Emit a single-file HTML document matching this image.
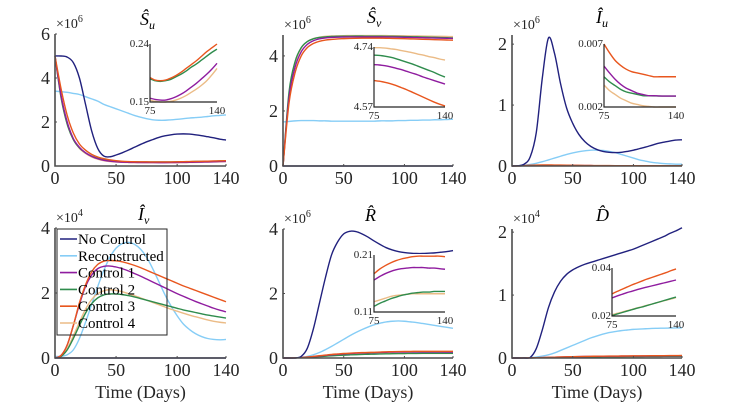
<!DOCTYPE html>
<html><head><meta charset="utf-8"><style>
html,body{margin:0;padding:0;background:#fff;}
svg{display:block;font-family:"Liberation Serif",serif;}
</style></head><body>
<svg id="fig" width="731" height="407" viewBox="0 0 731 407"></svg>
<script>
const t=[0,5,10,15,20,25,30,35,40,45,50,55,60,65,70,75,80,85,90,95,100,105,110,115,120,125,130,135,140];
// S_u (x10^6)
const suNo=[5,5,4.95,4.7,4.0,2.8,1.6,0.8,0.45,0.42,0.5,0.6,0.72,0.85,0.98,1.1,1.2,1.3,1.37,1.42,1.45,1.46,1.45,1.42,1.38,1.33,1.28,1.22,1.18];
const suRec=[3.4,3.38,3.35,3.3,3.25,3.15,3.05,2.95,2.8,2.7,2.6,2.5,2.4,2.3,2.22,2.15,2.1,2.08,2.08,2.1,2.12,2.15,2.18,2.2,2.22,2.25,2.28,2.3,2.32];
const suC1=[5,3.2,2.0,1.25,0.85,0.6,0.44,0.33,0.26,0.22,0.19,0.175,0.165,0.16,0.157,0.156,0.154,0.153,0.153,0.155,0.158,0.162,0.167,0.173,0.179,0.186,0.193,0.201,0.21];
const suC2=[5,3.1,1.9,1.2,0.82,0.6,0.45,0.35,0.28,0.24,0.215,0.2,0.192,0.188,0.187,0.186,0.183,0.182,0.183,0.185,0.189,0.193,0.198,0.204,0.209,0.215,0.221,0.227,0.232];
const suC3=[5,3.5,2.3,1.5,1.0,0.72,0.53,0.41,0.33,0.28,0.24,0.215,0.2,0.193,0.19,0.188,0.184,0.183,0.184,0.187,0.191,0.196,0.202,0.208,0.214,0.221,0.228,0.234,0.241];
const suC4=[5,3.1,1.9,1.2,0.8,0.57,0.41,0.31,0.24,0.2,0.18,0.168,0.16,0.156,0.154,0.153,0.151,0.150,0.150,0.151,0.153,0.156,0.160,0.165,0.170,0.176,0.183,0.192,0.202];
// S_v (x10^6)
const svNo=t.map(()=>0);
const svRec=[1.6,1.62,1.64,1.65,1.65,1.65,1.64,1.64,1.63,1.63,1.63,1.63,1.63,1.63,1.63,1.63,1.64,1.64,1.64,1.65,1.65,1.66,1.66,1.67,1.67,1.68,1.68,1.69,1.7];
const svC1=[0,2.5,3.6,4.15,4.42,4.55,4.62,4.655,4.672,4.682,4.687,4.69,4.691,4.691,4.691,4.69,4.689,4.687,4.684,4.68,4.676,4.671,4.666,4.661,4.655,4.65,4.645,4.64,4.635];
const svC2=[0,2.7,3.8,4.3,4.52,4.62,4.67,4.69,4.705,4.712,4.716,4.718,4.719,4.719,4.718,4.717,4.716,4.714,4.711,4.707,4.702,4.697,4.692,4.686,4.68,4.674,4.668,4.661,4.655];
const svC3=[0,2.3,3.4,4.0,4.3,4.45,4.53,4.575,4.6,4.618,4.628,4.636,4.641,4.644,4.645,4.645,4.643,4.64,4.636,4.631,4.625,4.619,4.612,4.605,4.598,4.591,4.584,4.578,4.573];
const svC4=[0,2.6,3.75,4.28,4.52,4.63,4.68,4.71,4.725,4.732,4.736,4.738,4.739,4.739,4.739,4.738,4.738,4.737,4.735,4.733,4.730,4.727,4.724,4.72,4.717,4.713,4.71,4.706,4.703];
// I_u (x10^6)
const iuNo=[0,0.005,0.03,0.15,0.55,1.45,2.1,1.85,1.35,0.95,0.7,0.52,0.4,0.32,0.27,0.24,0.225,0.22,0.225,0.24,0.26,0.285,0.31,0.34,0.37,0.39,0.41,0.425,0.43];
const iuRec=[0,0.003,0.01,0.025,0.045,0.07,0.1,0.13,0.16,0.19,0.215,0.235,0.25,0.26,0.26,0.255,0.24,0.22,0.19,0.16,0.13,0.1,0.08,0.06,0.05,0.04,0.035,0.03,0.03];
const iuC1=[0,0.0015,0.005,0.009,0.012,0.0135,0.0135,0.0125,0.0112,0.0099,0.0087,0.0077,0.0068,0.006,0.0056,0.00525,0.0047,0.0042,0.0038,0.0035,0.0033,0.0031,0.003,0.0029,0.0029,0.00288,0.00287,0.00287,0.00287];
const iuC2=[0,0.001,0.004,0.007,0.0095,0.0105,0.0105,0.0097,0.0087,0.0077,0.0068,0.006,0.0053,0.0048,0.0046,0.0044,0.004,0.0037,0.0034,0.0032,0.0031,0.003,0.0029,0.00289,0.00288,0.00287,0.00287,0.00287,0.00287];
const iuC3=[0,0.002,0.006,0.011,0.015,0.017,0.017,0.016,0.0145,0.013,0.0115,0.0103,0.0092,0.0082,0.0075,0.007,0.0063,0.0057,0.0053,0.005,0.0048,0.0047,0.0046,0.0045,0.0044,0.0044,0.0044,0.0044,0.0044];
const iuC4=[0,0.001,0.004,0.0075,0.01,0.011,0.011,0.01,0.0088,0.0076,0.0065,0.0055,0.0047,0.0041,0.0039,0.00375,0.0033,0.003,0.0027,0.0025,0.0023,0.0022,0.0021,0.00205,0.002,0.002,0.002,0.002,0.002];
// I_v (x10^4)
const ivNo=t.map(()=>0);
const ivRec=[0.05,0.05,0.1,0.25,0.6,1.1,1.65,2.2,2.7,3.1,3.38,3.52,3.56,3.5,3.35,3.1,2.75,2.35,1.95,1.6,1.3,1.05,0.88,0.75,0.66,0.6,0.57,0.56,0.57];
const ivC1=[0,0.08,0.4,1.0,1.65,2.2,2.55,2.75,2.82,2.83,2.8,2.75,2.68,2.6,2.52,2.43,2.34,2.25,2.16,2.07,1.98,1.9,1.82,1.74,1.67,1.6,1.53,1.47,1.42];
const ivC2=[0,0.05,0.25,0.6,1.0,1.38,1.67,1.85,1.94,1.97,1.97,1.95,1.92,1.88,1.83,1.78,1.73,1.68,1.63,1.58,1.53,1.48,1.44,1.4,1.36,1.32,1.29,1.26,1.23];
const ivC3=[0,0.08,0.4,1.0,1.7,2.25,2.65,2.88,2.98,3.0,2.99,2.96,2.91,2.85,2.78,2.7,2.62,2.54,2.46,2.38,2.3,2.22,2.15,2.08,2.01,1.94,1.87,1.8,1.73];
const ivC4=[0,0.05,0.28,0.68,1.1,1.5,1.8,1.98,2.07,2.1,2.08,2.04,1.98,1.92,1.85,1.78,1.71,1.64,1.57,1.5,1.44,1.38,1.32,1.27,1.22,1.17,1.13,1.1,1.08];
// R (x10^6)
const rNo=[0,0,0,0.05,0.3,0.9,1.7,2.5,3.2,3.6,3.85,3.93,3.92,3.85,3.75,3.63,3.52,3.42,3.35,3.3,3.27,3.25,3.24,3.24,3.25,3.26,3.28,3.3,3.33];
const rRec=[0,0,0.005,0.02,0.05,0.1,0.17,0.26,0.36,0.47,0.58,0.69,0.79,0.88,0.96,1.03,1.08,1.12,1.14,1.15,1.14,1.12,1.1,1.07,1.04,1.01,0.98,0.95,0.92];
const rC1=[0,0,0.004,0.013,0.027,0.045,0.064,0.082,0.1,0.115,0.128,0.139,0.149,0.156,0.162,0.166,0.172,0.177,0.181,0.184,0.186,0.187,0.188,0.188,0.188,0.187,0.187,0.186,0.185];
const rC2=[0,0,0.003,0.009,0.019,0.031,0.044,0.057,0.069,0.08,0.089,0.097,0.104,0.11,0.116,0.12,0.125,0.129,0.133,0.136,0.139,0.141,0.143,0.144,0.145,0.145,0.146,0.146,0.146];
const rC3=[0,0,0.005,0.015,0.03,0.05,0.07,0.09,0.11,0.125,0.14,0.15,0.16,0.167,0.172,0.177,0.185,0.191,0.196,0.2,0.203,0.205,0.207,0.208,0.208,0.208,0.208,0.208,0.207];
const rC4=[0,0,0.003,0.01,0.021,0.034,0.048,0.061,0.073,0.084,0.093,0.102,0.11,0.117,0.124,0.128,0.131,0.134,0.137,0.139,0.14,0.141,0.142,0.142,0.142,0.142,0.142,0.142,0.142];
// D (x10^4)
const dNo=[0,0,0,0.01,0.15,0.45,0.8,1.05,1.22,1.33,1.4,1.45,1.49,1.52,1.55,1.58,1.61,1.64,1.67,1.7,1.73,1.77,1.81,1.85,1.89,1.93,1.98,2.02,2.07];
const dRec=[0,0,0,0.005,0.015,0.03,0.05,0.08,0.12,0.16,0.2,0.24,0.28,0.32,0.35,0.38,0.405,0.42,0.435,0.445,0.455,0.46,0.465,0.47,0.472,0.474,0.476,0.478,0.48];
const dC1=[0,0,0.0005,0.002,0.004,0.0066,0.0095,0.0124,0.0152,0.018,0.02,0.022,0.0238,0.0256,0.0266,0.0275,0.0283,0.029,0.0297,0.0303,0.0309,0.0315,0.032,0.0325,0.033,0.0335,0.034,0.0345,0.035];
const dC2=[0,0,0.0003,0.0014,0.003,0.005,0.007,0.009,0.011,0.013,0.0148,0.0163,0.0177,0.0188,0.0196,0.0202,0.0208,0.0214,0.022,0.0226,0.0232,0.0237,0.0243,0.0249,0.0255,0.0261,0.0267,0.0273,0.0279];
const dC3=[0,0,0.0005,0.002,0.004,0.007,0.01,0.013,0.016,0.019,0.021,0.023,0.025,0.027,0.0283,0.0292,0.0302,0.0311,0.032,0.0329,0.0337,0.0345,0.0353,0.036,0.0367,0.0374,0.0381,0.0389,0.0396];
const dC4=[0,0,0.0003,0.0014,0.003,0.005,0.0071,0.0092,0.0112,0.0132,0.015,0.0165,0.0179,0.0191,0.0199,0.0205,0.0211,0.0216,0.0222,0.0227,0.0233,0.0238,0.0244,0.0249,0.0255,0.026,0.0266,0.0271,0.0277];
const xTicks=[0,50,100,140];
const seriesNames=["No Control","Reconstructed","Control 1","Control 2","Control 3","Control 4"];

const NS="http://www.w3.org/2000/svg";
const svg=document.getElementById('fig');
const COL={nc:'#21217e',rec:'#86cdf6',c1:'#8f1c9f',c2:'#2f8c4d',c3:'#e8561e',c4:'#ebbb86'};
function mk(tag,attrs,parent){const e=document.createElementNS(NS,tag);for(const k in attrs)e.setAttribute(k,attrs[k]);(parent||svg).appendChild(e);return e;}
function smoothPath(pts){let d='M'+pts[0][0].toFixed(2)+','+pts[0][1].toFixed(2);
 for(let i=0;i<pts.length-1;i++){const p0=pts[Math.max(0,i-1)],p1=pts[i],p2=pts[i+1],p3=pts[Math.min(pts.length-1,i+2)];
  const c1x=p1[0]+(p2[0]-p0[0])/6,c1y=p1[1]+(p2[1]-p0[1])/6,c2x=p2[0]-(p3[0]-p1[0])/6,c2y=p2[1]-(p3[1]-p1[1])/6;
  d+=' C'+c1x.toFixed(2)+','+c1y.toFixed(2)+' '+c2x.toFixed(2)+','+c2y.toFixed(2)+' '+p2[0].toFixed(2)+','+p2[1].toFixed(2);}
 return d;}

const panels=[
 {name:'su',title:['S','u'],x0:55,x1:226,yb:166,yt:34,ymax:6,yt_:[0,2,4,6],exp:'6',tx:140,ty:25,
  data:[suRec,suC4,suC2,suC1,suC3,suNo],inset:{x0:150,x1:217,yt:44,yb:102,lo:0.15,hi:0.24}},
 {name:'sv',title:['S','v'],x0:283,x1:453,yb:166,yt:35,ymax:4.76,yt_:[0,2,4],exp:'6',tx:367,ty:23,
  data:[svRec,svC4,svC2,svC1,svC3,svNo],inset:{x0:374,x1:445,yt:47,yb:107,lo:4.57,hi:4.74}},
 {name:'iu',title:['I','u'],x0:512,x1:682,yb:166,yt:35,ymax:2.15,yt_:[0,1,2],exp:'6',tx:596,ty:23,
  data:[iuRec,iuC4,iuC2,iuC1,iuC3,iuNo],inset:{x0:604,x1:676,yt:44,yb:107,lo:0.002,hi:0.007}},
 {name:'iv',title:['I','v'],x0:55,x1:226,yb:358,yt:228,ymax:4,yt_:[0,2,4],exp:'4',tx:138,ty:220,xlabel:true,
  data:[ivRec,ivC4,ivC2,ivC1,ivC3,ivNo]},
 {name:'r',title:['R',''],x0:283,x1:453,yb:358,yt:229,ymax:4,yt_:[0,2,4],exp:'6',tx:365,ty:221,xlabel:true,
  data:[rRec,rC4,rC2,rC1,rC3,rNo],inset:{x0:374,x1:445,yt:255,yb:312,lo:0.11,hi:0.21}},
 {name:'d',title:['D',''],x0:512,x1:682,yb:358,yt:229,ymax:2.05,yt_:[0,1,2],exp:'4',tx:596,ty:221,xlabel:true,
  data:[dRec,dC4,dC2,dC1,dC3,dNo],inset:{x0:612,x1:676,yt:268,yb:316,lo:0.02,hi:0.04}}
];
const drawCols=[COL.rec,COL.c4,COL.c2,COL.c1,COL.c3,COL.nc];
const drawNames=['reconstructed','control-4','control-2','control-1','control-3','no-control'];

panels.forEach(p=>{
 const g=mk('g',{});
 
 
 const X=v=>p.x0+(v/140)*(p.x1-p.x0);
 const Y=v=>p.yb-(v/p.ymax)*(p.yb-p.yt);
 p.data.forEach((arr,si)=>{
  const path=mk('path',{d:smoothPath(t.map((tt,i)=>[X(tt),Math.max(p.yt-2,Y(arr[i]))])),fill:'none',stroke:drawCols[si],'stroke-width':1.4},g);
  
  
 });
 const ax=mk('path',{d:`M${p.x0},${p.yt}V${p.yb}H${p.x1}`,fill:'none',stroke:'#4d4d4d','stroke-width':1.6},g);
 
 
 xTicks.forEach(v=>{
  mk('line',{x1:X(v),x2:X(v),y1:p.yb,y2:p.yb-2,stroke:'#4d4d4d','stroke-width':1},g);
  const tx=mk('text',{x:X(v),y:p.yb+18,'text-anchor':'middle','font-size':18,fill:'#262626'},g);
  tx.textContent=v;
  
  
 });
 p.yt_.forEach(v=>{
  mk('line',{x1:p.x0,x2:p.x0+2,y1:Y(v),y2:Y(v),stroke:'#4d4d4d','stroke-width':1},g);
  const ty=mk('text',{x:p.x0-5,y:Y(v)+6,'text-anchor':'end','font-size':18,fill:'#262626'},g);
  ty.textContent=v;
  
  
 });
 const ex=mk('text',{x:p.x0+1,y:p.yt-6,'font-size':14,fill:'#262626'},g);
 ex.innerHTML='×10<tspan dy="-6" font-size="10">'+p.exp+'</tspan>';
 
 
 const ti=mk('text',{x:p.tx,y:p.ty,'font-size':18,'font-style':'italic',fill:'#000'},g);
 ti.innerHTML=p.title[0]+'\u0302'+(p.title[1]?'<tspan dy="4" font-size="12">'+p.title[1]+'</tspan>':'');
 
 
 if(p.xlabel){
  const xl=mk('text',{x:(p.x0+p.x1)/2,y:398,'text-anchor':'middle','font-size':18,fill:'#262626'},g);
  xl.textContent='Time (Days)';
  
  
 }
 if(p.inset){
  const n=p.inset;
  const ig=mk('g',{},g);
  
  
  const IX=v=>n.x0+((v-75)/65)*(n.x1-n.x0);
  const IY=v=>n.yb-((v-n.lo)/(n.hi-n.lo))*(n.yb-n.yt);
  mk('rect',{x:n.x0,y:n.yt-1,width:n.x1-n.x0+4,height:n.yb-n.yt+2,fill:'#fff'},ig);
  p.data.forEach((arr,si)=>{
   if(si===0||si===5)return;
   const pts=[];t.forEach((tt,i)=>{if(tt>=75)pts.push([IX(tt),Math.min(n.yb,Math.max(n.yt,IY(arr[i])))]);});
   const pa=mk('path',{d:smoothPath(pts),fill:'none',stroke:drawCols[si],'stroke-width':1.4},ig);
   
   
  });
  mk('path',{d:`M${n.x0},${n.yt}V${n.yb}H${n.x1}`,fill:'none',stroke:'#262626','stroke-width':1.2},ig);
  const lbl=(txt,x,y,anc)=>{const e=mk('text',{x:x,y:y,'text-anchor':anc,'font-size':11,fill:'#262626'},ig);e.textContent=txt;
   
   };
  lbl(String(n.hi),n.x0-1,n.yt+3,'end');
  lbl(String(n.lo),n.x0-1,n.yb+3,'end');
  lbl('75',n.x0,n.yb+12,'middle');
  lbl('140',n.x1,n.yb+12,'middle');
 }
});
const lg=mk('g',{});


mk('rect',{x:57,y:229,width:110,height:106,fill:'none',stroke:'#262626','stroke-width':1},lg);
const legCols=[COL.nc,COL.rec,COL.c1,COL.c2,COL.c3,COL.c4];
seriesNames.forEach((s,i)=>{
 const y=239+i*16.8;
 const e=mk('g',{},lg);
 
 
 mk('line',{x1:60,x2:77,y1:y,y2:y,stroke:legCols[i],'stroke-width':1.6},e);
 const tx=mk('text',{x:78,y:y+5,'font-size':15,fill:'#000'},e);
 tx.textContent=s;
});
</script>
</body></html>
